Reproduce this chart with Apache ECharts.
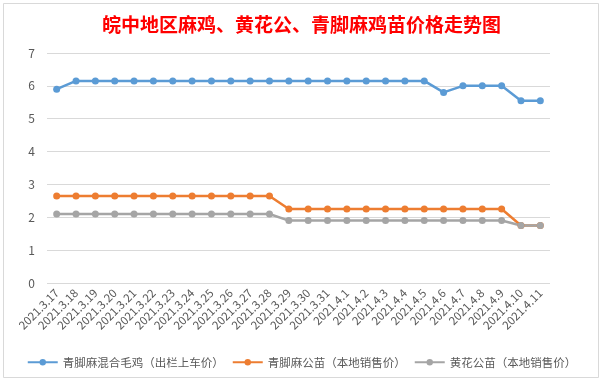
<!DOCTYPE html>
<html><head><meta charset="utf-8">
<script src="https://cdn.jsdelivr.net/npm/echarts@6/dist/echarts.min.js"></script>
<style>html,body{margin:0;padding:0;background:#fff}#c{width:603px;height:383px}</style>
</head><body><div id="c"></div>
<script>
const categories = ['2021.3.17','2021.3.18','2021.3.19','2021.3.20','2021.3.21','2021.3.22','2021.3.23','2021.3.24','2021.3.25','2021.3.26','2021.3.27','2021.3.28','2021.3.29','2021.3.30','2021.3.31','2021.4.1','2021.4.2','2021.4.3','2021.4.4','2021.4.5','2021.4.6','2021.4.7','2021.4.8','2021.4.9','2021.4.10','2021.4.11'];
const mixedChicken = [5.9,6.15,6.15,6.15,6.15,6.15,6.15,6.15,6.15,6.15,6.15,6.15,6.15,6.15,6.15,6.15,6.15,6.15,6.15,6.15,5.8,6.0,6.0,6.0,5.55,5.55];
const qingjiaoRooster = [2.65,2.65,2.65,2.65,2.65,2.65,2.65,2.65,2.65,2.65,2.65,2.65,2.25,2.25,2.25,2.25,2.25,2.25,2.25,2.25,2.25,2.25,2.25,2.25,1.75,1.75];
const huanghuaRooster = [2.1,2.1,2.1,2.1,2.1,2.1,2.1,2.1,2.1,2.1,2.1,2.1,1.9,1.9,1.9,1.9,1.9,1.9,1.9,1.9,1.9,1.9,1.9,1.9,1.75,1.75];
const seriesNames = ['青脚麻混合毛鸡（出栏上车价）','青脚麻公苗（本地销售价）','黄花公苗（本地销售价）'];
const yTicks = [0,1,2,3,4,5,6,7];
const titleText = '皖中地区麻鸡、黄花公、青脚麻鸡苗价格走势图';

const chart = echarts.init(document.getElementById('c'), null, {renderer:'canvas'});
const font = '"Microsoft YaHei","Noto Sans CJK SC","Noto Sans",sans-serif';
function mk(name, data, color){
  return {name, type:'line', data, color, symbol:'circle', symbolSize:7,
    lineStyle:{width:2.5,color}, itemStyle:{color}, animation:false};
}
chart.setOption({
  backgroundColor:'#fff',
  graphic:[{type:'rect', shape:{x:3.5,y:3.5,width:595,height:374}, style:{fill:'none',stroke:'#d9d9d9',lineWidth:1}, silent:true}],
  title:{text:titleText, left:'center', top:10,
    textStyle:{color:'#ff0000', fontSize:19, fontWeight:'bold', fontFamily:'"Noto Sans CJK SC",serif'}},
  grid:{left:47, right:53, top:53, bottom:100},
  legend:{bottom:10, left:'center', itemWidth:30, itemHeight:8, itemGap:8,
    textStyle:{color:'#595959', fontSize:11.5, fontFamily:font}},
  xAxis:{type:'category', data:categories, boundaryGap:true,
    axisLine:{show:false}, axisTick:{show:false},
    axisLabel:{rotate:45, color:'#595959', fontSize:11.5, interval:0, margin:8, fontFamily:font}},
  yAxis:{type:'value', min:yTicks[0], max:yTicks[yTicks.length-1], interval:1,
    axisLine:{show:false}, axisTick:{show:false},
    axisLabel:{color:'#595959', fontSize:12, margin:12, fontFamily:font}},
  series:[
    mk(seriesNames[0], mixedChicken, '#5b9bd5'),
    mk(seriesNames[1], qingjiaoRooster, '#ed7d31'),
    mk(seriesNames[2], huanghuaRooster, '#a5a5a5')
  ]
});
chart.setOption({yAxis:{splitLine:{lineStyle:{color:'#d9d9d9', width:1}}}});
</script></body></html>
